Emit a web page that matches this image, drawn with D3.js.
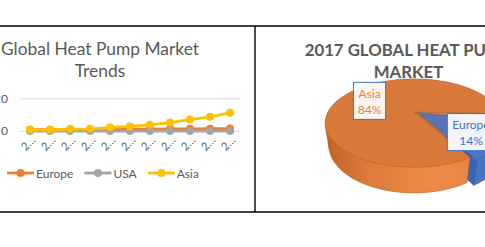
<!DOCTYPE html>
<html>
<head>
<meta charset="utf-8">
<script src="https://cdn.jsdelivr.net/npm/d3@7"></script>
<style>
  body { margin: 0; background: #fff; }
  svg { display: block; font-family: Lato, "Open Sans", sans-serif; }
</style>
</head>
<body>
<svg id="chart" width="485" height="247"></svg>
<script>
// line chart data
const years = ['2007', '2008', '2009', '2010', '2011', '2012', '2013', '2014', '2015', '2016', '2017'];
const europe = [1.0, 1.0, 1.1, 1.1, 1.2, 1.3, 1.4, 1.5, 1.5, 1.6, 1.7];
const usa = [0.2, 0.2, 0.2, 0.2, 0.2, 0.2, 0.2, 0.2, 0.2, 0.2, 0.2];
const asia = [0.9, 0.9, 1.4, 1.5, 2.3, 3.0, 4.0, 5.4, 7.2, 8.9, 11.4];
const seriesNames = ['Europe', 'USA', 'Asia'];
const yTicks = [0, 20];

// pie data (2017 shares, %)
const pieNames = ['Europe', 'USA', 'Asia'];
const pieShares = [14, 2, 84];

const lineColors = ['#ED7D31', '#A5A5A5', '#FFC000'];
const textGray = '#595959';

const svg = d3.select('#chart');
svg.append('rect').attr('width', 485).attr('height', 247).attr('fill', '#fff');

// ---------- left: line chart ----------
const left = svg.append('g');

left.append('text')
  .attr('x', 100).attr('y', 55)
  .attr('text-anchor', 'middle')
  .attr('fill', textGray).style('font-size', '17.4px')
  .text('Global Heat Pump Market');
left.append('text')
  .attr('x', 100).attr('y', 77)
  .attr('text-anchor', 'middle')
  .attr('fill', textGray).style('font-size', '17.4px')
  .text('Trends');

const x = d3.scalePoint().domain(years).range([20, 240]).padding(0.5);
const y = d3.scaleLinear().domain([0, 20]).range([131.3, 98.8]);

left.selectAll('line.grid').data(yTicks).enter().append('line')
  .attr('class', 'grid')
  .attr('x1', 20).attr('x2', 240)
  .attr('y1', d => y(d)).attr('y2', d => y(d))
  .attr('stroke', '#D9D9D9').attr('stroke-width', 1);

left.selectAll('text.ytick').data(yTicks).enter().append('text')
  .attr('class', 'ytick')
  .attr('x', 8).attr('y', d => y(d) + 4)
  .attr('text-anchor', 'end')
  .attr('fill', textGray).style('font-size', '12px')
  .text(d => d);

left.selectAll('text.xtick').data(years).enter().append('text')
  .attr('class', 'xtick')
  .attr('text-anchor', 'end')
  .attr('transform', d => `translate(${x(d) + 6},${141}) rotate(-45)`)
  .attr('fill', textGray).style('font-size', '11px')
  .text(d => d[0] + '…');

const series = [europe, usa, asia];
const line = d3.line().x((d, i) => x(years[i])).y(d => y(d));

series.forEach((vals, k) => {
  const g = left.append('g');
  g.append('path')
    .attr('d', line(vals))
    .attr('fill', 'none')
    .attr('stroke', lineColors[k])
    .attr('stroke-width', 2.8)
    .attr('stroke-linejoin', 'round');
  g.selectAll('circle').data(vals).enter().append('circle')
    .attr('cx', (d, i) => x(years[i]))
    .attr('cy', d => y(d))
    .attr('r', 4)
    .attr('fill', lineColors[k]);
});

// legend, centred under the chart
const legend = left.append('g');
let lx = 0;
seriesNames.forEach((name, k) => {
  const item = legend.append('g').attr('transform', `translate(${lx},0)`);
  item.append('line').attr('x1', 0).attr('x2', 27).attr('y1', 0).attr('y2', 0)
    .attr('stroke', lineColors[k]).attr('stroke-width', 2.8);
  item.append('circle').attr('cx', 13.5).attr('cy', 0).attr('r', 4).attr('fill', lineColors[k]);
  const t = item.append('text').attr('x', 29).attr('y', 4.5)
    .attr('fill', textGray).style('font-size', '12px').text(name);
  lx += 29 + t.node().getComputedTextLength() + 11;
});
const legendW = lx - 11;
legend.attr('transform', `translate(${103 - legendW / 2},173)`);

// ---------- right: 3D pie ----------
const right = svg.append('g');
right.append('text')
  .attr('x', 408.5).attr('y', 56)
  .attr('text-anchor', 'middle')
  .attr('fill', textGray).style('font-size', '16.8px').style('font-weight', 700)
  .text('2017 GLOBAL HEAT PUMP');
right.append('text')
  .attr('x', 408.5).attr('y', 77.5)
  .attr('text-anchor', 'middle')
  .attr('fill', textGray).style('font-size', '16.8px').style('font-weight', 700)
  .text('MARKET');

// perspective camera for the tilted disc (radius 1)
const cam = { cx: 414, cy: 112, f: 302, D: 3.51, phi: 28.7 * Math.PI / 180, h: 0.3 };
const cphi = Math.cos(cam.phi), sphi = Math.sin(cam.phi);
function proj(X, Y, Z) {
  const d = cam.D - (Y * cphi + Z * sphi);
  return [cam.cx + cam.f * X / d, cam.cy + cam.f * (Y * sphi - Z * cphi) / d];
}

const topCols = ['#4A77C9', '#A0A0A0', '#DC7A3A'];
const wallCols = ['#4674C4', '#8E8E8E', 'url(#asiaWall)'];
const sideCols = ['#3C64B2', '#858585', '#C8692B'];
const edgeCols = ['#2F55A0', '#707070', '#B4581C'];
const explode = [0.07, 0, 0];
const firstSliceTurn = 9 * Math.PI / 180;

const defs = svg.append('defs');
const grad = defs.append('linearGradient').attr('id', 'asiaWall')
  .attr('gradientUnits', 'userSpaceOnUse')
  .attr('x1', 326).attr('x2', 500).attr('y1', 0).attr('y2', 0);
grad.append('stop').attr('offset', 0).attr('stop-color', '#BF6026');
grad.append('stop').attr('offset', 0.25).attr('stop-color', '#E07C3A');
grad.append('stop').attr('offset', 0.6).attr('stop-color', '#F08C48');
grad.append('stop').attr('offset', 1).attr('stop-color', '#E98542');

// slices run counter-clockwise from the first-slice angle
const total = d3.sum(pieShares);
const a0 = Math.PI / 2 + firstSliceTurn + 2 * Math.PI * pieShares[0] / total;
const arcs = d3.pie().value(d => d).sort(null)
  .startAngle(a0).endAngle(a0 - 2 * Math.PI)(pieShares);

const slices = arcs.map((a, i) => {
  const t0 = Math.min(a.startAngle, a.endAngle) - Math.PI / 2;
  const t1 = Math.max(a.startAngle, a.endAngle) - Math.PI / 2;
  const mid = (t0 + t1) / 2;
  return { i, t0, t1, mid, ox: explode[i] * Math.cos(mid), oy: explode[i] * Math.sin(mid) };
});

function rimPts(sl, ta, tb, Z) {
  const n = Math.max(2, Math.ceil(Math.abs(tb - ta) / 0.02));
  return d3.range(n + 1).map(k => {
    const t = ta + (tb - ta) * k / n;
    return proj(sl.ox + Math.cos(t), sl.oy + Math.sin(t), Z);
  });
}
const toPath = pts => 'M' + pts.map(p => p[0].toFixed(2) + ',' + p[1].toFixed(2)).join('L') + 'Z';
const camY = cam.D * cphi;

const pieG = right.append('g');
const faceStyle = (sel, fill, i) => sel
  .attr('fill', fill).attr('fill-opacity', 0.9)
  .attr('stroke', edgeCols[i]).attr('stroke-opacity', 0.5).attr('stroke-width', 0.6);

// bottoms
slices.forEach(sl => {
  const pts = [proj(sl.ox, sl.oy, -cam.h)].concat(rimPts(sl, sl.t0, sl.t1, -cam.h));
  faceStyle(pieG.append('path').attr('d', toPath(pts)), sideCols[sl.i], sl.i);
});

// outer walls split into back and front runs
function wallRuns(sl, front) {
  const n = Math.max(2, Math.ceil((sl.t1 - sl.t0) / 0.02));
  const runs = []; let cur = null;
  for (let k = 0; k <= n; k++) {
    const t = sl.t0 + (sl.t1 - sl.t0) * k / n;
    const vis = (-1 - sl.ox * Math.cos(t) + (camY - sl.oy) * Math.sin(t)) > 0;
    if (vis === front) { if (!cur) { cur = [t, t]; runs.push(cur); } cur[1] = t; }
    else cur = null;
  }
  return runs.filter(r => r[1] > r[0]);
}
function drawWalls(front) {
  slices.forEach(sl => {
    wallRuns(sl, front).forEach(r => {
      const pts = rimPts(sl, r[0], r[1], 0).concat(rimPts(sl, r[0], r[1], -cam.h).reverse());
      faceStyle(pieG.append('path').attr('d', toPath(pts)), front ? wallCols[sl.i] : sideCols[sl.i], sl.i);
    });
  });
}
drawWalls(false);

// radial faces
slices.forEach(sl => {
  [sl.t0, sl.t1].forEach(t => {
    const pts = [
      proj(sl.ox, sl.oy, 0),
      proj(sl.ox + Math.cos(t), sl.oy + Math.sin(t), 0),
      proj(sl.ox + Math.cos(t), sl.oy + Math.sin(t), -cam.h),
      proj(sl.ox, sl.oy, -cam.h)
    ];
    faceStyle(pieG.append('path').attr('d', toPath(pts)), sideCols[sl.i], sl.i);
  });
});

drawWalls(true);

// top faces
slices.forEach(sl => {
  const pts = [proj(sl.ox, sl.oy, 0)].concat(rimPts(sl, sl.t0, sl.t1, 0));
  faceStyle(pieG.append('path').attr('d', toPath(pts)), topCols[sl.i], sl.i);
});

// data labels
const labelCols = ['#4472C4', '#A5A5A5', '#ED7D31'];
slices.forEach(sl => {
  if (sl.i === 1) return;
  const r = 0.65;
  const p = proj(sl.ox + r * Math.cos(sl.mid), sl.oy + r * Math.sin(sl.mid), 0);
  const g = right.append('g').attr('transform', `translate(${p[0]},${p[1] + 1.5})`);
  const box = g.append('rect').attr('fill', '#fff').attr('fill-opacity', 0.92)
    .attr('stroke', '#4472C4').attr('stroke-width', 1);
  const t1 = g.append('text').attr('text-anchor', 'middle').attr('y', -3)
    .attr('fill', labelCols[sl.i]).style('font-size', '12px').text(pieNames[sl.i]);
  g.append('text').attr('text-anchor', 'middle').attr('y', 13)
    .attr('fill', labelCols[sl.i]).style('font-size', '12px').text(pieShares[sl.i] + '%');
  const w = t1.node().getComputedTextLength() + 10;
  box.attr('x', -w / 2).attr('y', -18.5).attr('width', w).attr('height', 37);
});

// ---------- table borders ----------
const borders = svg.append('g').attr('stroke', '#000').attr('stroke-width', 1.4);
borders.append('line').attr('x1', 0).attr('x2', 485).attr('y1', 26).attr('y2', 26);
borders.append('line').attr('x1', 0).attr('x2', 485).attr('y1', 212).attr('y2', 212);
borders.append('line').attr('x1', 255).attr('x2', 255).attr('y1', 26).attr('y2', 212);
</script>
</body>
</html>
